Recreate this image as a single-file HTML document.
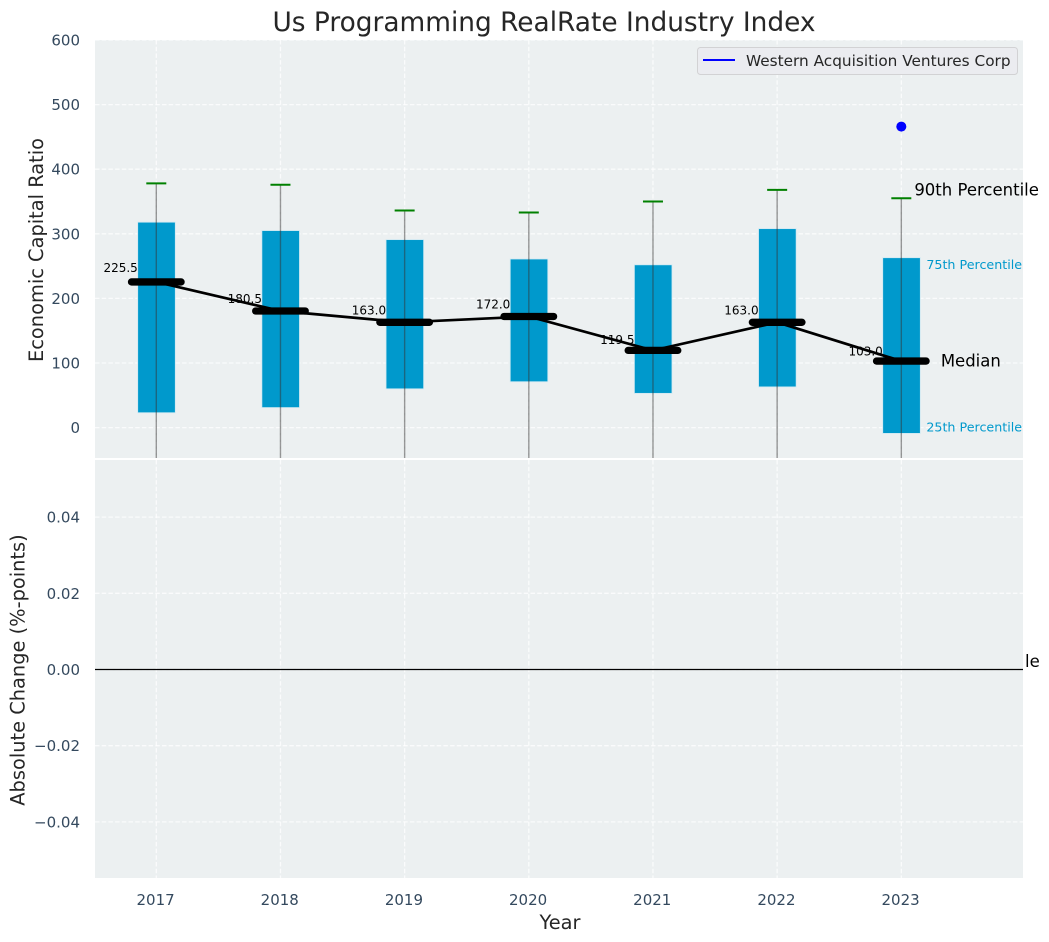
<!DOCTYPE html>
<html>
<head>
<meta charset="utf-8">
<title>Us Programming RealRate Industry Index</title>
<style>
html,body{margin:0;padding:0;background:#fff;width:1049px;height:942px;overflow:hidden}
svg{display:block;font-family:"DejaVu Sans","Liberation Sans",sans-serif}
</style>
</head>
<body>
<svg id="chart" xmlns="http://www.w3.org/2000/svg" width="1049" height="942" viewBox="0 0 1049 942">
  <defs>
    <clipPath id="top-clip"><rect x="95" y="40" width="928" height="418"/></clipPath>
  </defs>
  <text x="544" y="31" font-size="26.4" fill="#262626" text-anchor="middle">Us Programming RealRate Industry Index</text>
  <rect x="95" y="40" width="928" height="418" fill="#ecf0f1"/>
  <rect x="95" y="460" width="928" height="418" fill="#ecf0f1"/>
  <g id="grid"></g>
  <g id="marks" clip-path="url(#top-clip)"></g>
  <g id="labels"></g>
  <g id="annotations"></g>
  <g id="ticks"></g>
  <text x="1025" y="667" font-size="16.5" fill="#000">le</text>
  <line x1="95" x2="1023" y1="669.5" y2="669.5" stroke="#000" stroke-width="1.3"/>
  <text transform="translate(43,250) rotate(-90)" font-size="19.4" fill="#262626" text-anchor="middle">Economic Capital Ratio</text>
  <text transform="translate(24.5,670) rotate(-90)" font-size="19.4" fill="#262626" text-anchor="middle">Absolute Change (%-points)</text>
  <text x="560" y="929" font-size="19.4" fill="#262626" text-anchor="middle">Year</text>
  <g>
    <rect x="697.5" y="47.5" width="320" height="27" rx="3" fill="#ebecf0" stroke="#d2d2d4" stroke-width="1"/>
    <line x1="703" x2="735" y1="60" y2="60" stroke="#0000ff" stroke-width="2"/>
    <text x="746" y="66" font-size="15.3" fill="#262626">Western Acquisition Ventures Corp</text>
  </g>
</svg>
<script>
const years = [2017, 2018, 2019, 2020, 2021, 2022, 2023];
const p90 = [378, 376, 336, 333, 350, 368, 355];
const p75 = [318, 305, 291, 261, 252, 308, 263];
const medians = [225.5, 180.5, 163.0, 172.0, 119.5, 163.0, 103.0];
const p25 = [23, 31, 60, 71, 53, 63, -9];
const p10 = [-120, -110, -90, -80, -100, -85, -130];
const companyYears = [2023];
const companyValues = [466];
const topTicks = [0, 100, 200, 300, 400, 500, 600];
const bottomTicks = [0.04, 0.02, 0, -0.02, -0.04];

function x(year) { return 156.3 + (year - 2017) * 124.17; }
function yTop(v) { return 427.6 - v * 0.6460; }
function yBottom(v) { return 669.5 - v * 3810; }

const NS = 'http://www.w3.org/2000/svg';
function mk(parent, tag, attrs, text) {
  const el = document.createElementNS(NS, tag);
  for (const k in attrs) el.setAttribute(k, attrs[k]);
  if (text !== undefined) el.textContent = text;
  document.getElementById(parent).appendChild(el);
  return el;
}
const gridStyle = { stroke: '#ffffff', 'stroke-width': 1.3, 'stroke-dasharray': '4.5 2.2', 'stroke-opacity': 0.75 };
const tickFill = '#34495e';
const tickSize = 15;

topTicks.forEach(function (t) {
  const g = mk('grid', 'line', Object.assign({ x1: 95, x2: 1023, y1: yTop(t), y2: yTop(t) }, gridStyle));
  
  
  const l = mk('ticks', 'text', { x: 80, y: yTop(t) + 5.5, 'font-size': tickSize, fill: tickFill, 'text-anchor': 'end' }, String(t));
  
  
});
bottomTicks.forEach(function (t) {
  const g = mk('grid', 'line', Object.assign({ x1: 95, x2: 1023, y1: yBottom(t), y2: yBottom(t) }, gridStyle));
  
  
  const txt = (t < 0 ? '\u2212' : '') + Math.abs(t).toFixed(2);
  const l = mk('ticks', 'text', { x: 80, y: yBottom(t) + 5.5, 'font-size': tickSize, fill: tickFill, 'text-anchor': 'end' }, txt);
  
  
});
years.forEach(function (yr) {
  const a = mk('grid', 'line', Object.assign({ x1: x(yr), x2: x(yr), y1: 40, y2: 458 }, gridStyle));
  
  
  const b = mk('grid', 'line', Object.assign({ x1: x(yr), x2: x(yr), y1: 460, y2: 878 }, gridStyle));
  
  
  const l = mk('ticks', 'text', { x: x(yr) - 0.7, y: 905, 'font-size': tickSize, fill: tickFill, 'text-anchor': 'middle' }, String(yr));
  
  
});

years.forEach(function (yr, i) {
  const cx = x(yr);
  const box = mk('marks', 'rect', { x: cx - 18.6, y: yTop(p75[i]), width: 37.6, height: yTop(p25[i]) - yTop(p75[i]), fill: '#0099cc', stroke: '#cfe9f2', 'stroke-width': 0.8 });
  
  
  const whisker = mk('marks', 'line', { x1: cx, x2: cx, y1: yTop(p90[i]), y2: yTop(p10[i]), stroke: '#333333', 'stroke-opacity': 0.5, 'stroke-width': 1.4 });
  
  
  const cap = mk('marks', 'line', { x1: cx - 10, x2: cx + 10, y1: yTop(p90[i]), y2: yTop(p90[i]), stroke: '#008000', 'stroke-width': 2 });
  
  
  const med = mk('marks', 'line', { x1: cx - 24.8, x2: cx + 24.8, y1: yTop(medians[i]), y2: yTop(medians[i]), stroke: '#000', 'stroke-width': 7.3, 'stroke-linecap': 'round' });
  
  
  const lab = mk('labels', 'text', { x: cx - 18.5, y: yTop(medians[i] * 1.05) - 2.4, 'font-size': 12, fill: '#000', 'text-anchor': 'end' }, medians[i].toFixed(1));
  
  
});

const medianPath = mk('marks', 'polyline', {
  points: years.map(function (yr, i) { return x(yr) + ',' + yTop(medians[i]); }).join(' '),
  fill: 'none', stroke: '#000', 'stroke-width': 2.7
});



companyYears.forEach(function (yr, i) {
  const dot = mk('marks', 'circle', { cx: x(yr), cy: yTop(companyValues[i]), r: 5, fill: '#0000ff' });
  
  
});

const last = years.length - 1;
const lx = x(years[last]);
const a90 = mk('annotations', 'text', { x: lx + 13, y: yTop(p90[last]) - 3, 'font-size': 16.5, fill: '#000' }, '90th Percentile');


const a75 = mk('annotations', 'text', { x: lx + 25, y: yTop(p75[last]) + 11.5, 'font-size': 12.7, fill: '#0099cc' }, '75th Percentile');


const a50 = mk('annotations', 'text', { x: lx + 39.5, y: yTop(medians[last]) + 5.5, 'font-size': 16.5, fill: '#000' }, 'Median');


const a25 = mk('annotations', 'text', { x: lx + 25, y: yTop(p25[last]) - 2, 'font-size': 12.7, fill: '#0099cc' }, '25th Percentile');


</script>
</body>
</html>
